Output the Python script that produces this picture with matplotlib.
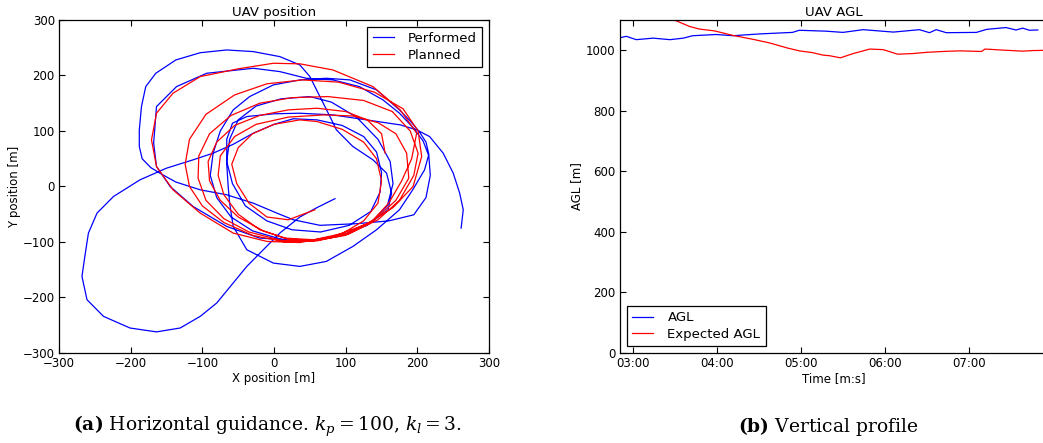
import numpy as np
import matplotlib
matplotlib.use("Agg")
import matplotlib.pyplot as plt
from matplotlib.ticker import FuncFormatter

# performed UAV track [m] (x, y)
performed = [
    (261, -75), (264, -42), (259, -12), (250, 24), (236, 60), (217, 90), (199, 102),
    (176, 111), (129, 120), (82, 129), (36, 132), (0, 131), (-38, 126), (-58, 114),
    (-66, 85), (-66, 40), (-64, 0), (-62, -30), (-57, -72), (-38, -114), (-1, -138),
    (36, -144), (73, -135), (110, -108), (143, -78), (175, -42), (194, -5), (210, 30),
    (216, 58), (212, 80), (203, 98), (190, 118), (175, 138), (143, 174), (106, 192),
    (73, 195), (36, 192), (-1, 183), (-34, 162), (-57, 138), (-75, 100), (-85, 60),
    (-89, 20), (-80, -20), (-60, -55), (-30, -80), (10, -95), (50, -98), (90, -90),
    (130, -70), (159, -42), (164, -12), (157, 24), (138, 48), (110, 72), (87, 102),
    (78, 126), (64, 162), (50, 198), (36, 219), (8, 234), (-29, 243), (-66, 246),
    (-103, 241), (-137, 228), (-165, 204), (-179, 180), (-185, 144), (-188, 102),
    (-188, 72), (-184, 50), (-172, 34), (-158, 23), (-137, 8), (-103, -6), (-66, -15),
    (-29, -30), (4, -48), (27, -60), (64, -70), (116, -67), (160, -62), (195, -51),
    (212, -20), (218, 20), (216, 55), (208, 82), (194, 106), (175, 132), (152, 156),
    (119, 180), (82, 192), (45, 195), (8, 207), (-29, 213), (-94, 204), (-136, 180),
    (-164, 144), (-168, 78), (-164, 36), (-145, 0), (-113, -36), (-66, -72), (-20, -93),
    (17, -96), (60, -96), (100, -86), (135, -65), (158, -35), (166, 5), (162, 45),
    (145, 85), (115, 125), (80, 152), (50, 162), (10, 158), (-25, 145), (-50, 120),
    (-62, 85), (-66, 45), (-58, 5), (-40, -35), (-10, -62), (25, -78), (65, -82),
    (105, -70), (135, -45), (148, -10), (150, 25), (143, 62), (125, 90), (95, 110),
    (60, 120), (27, 122), (0, 112), (-29, 96), (-57, 76), (-85, 60), (-113, 48),
    (-150, 33), (-187, 12), (-224, -18), (-247, -48), (-259, -84), (-264, -126),
    (-268, -162), (-261, -204), (-238, -234), (-201, -255), (-164, -262), (-131, -255),
    (-103, -234), (-80, -210), (-57, -174), (-38, -144), (-15, -114), (8, -84),
    (36, -55), (60, -38), (85, -22),
]

# planned track [m] (x, y)
planned = [
    (155, 60), (150, 95), (130, 120), (100, 135), (60, 141), (20, 138), (-20, 128),
    (-55, 110), (-80, 80), (-92, 45), (-90, 10), (-75, -25), (-50, -55), (-15, -80),
    (20, -95), (60, -97), (100, -88), (135, -65), (160, -30), (178, 10), (192, 50),
    (199, 96), (176, 138), (138, 180), (82, 210), (36, 221), (-1, 222), (-50, 212),
    (-103, 198), (-141, 168), (-164, 132), (-171, 84), (-164, 36), (-141, -6),
    (-103, -48), (-57, -84), (-10, -99), (36, -101), (82, -90), (129, -68), (166, -38),
    (194, 0), (206, 54), (201, 100), (180, 140), (140, 170), (90, 188), (40, 192),
    (-10, 185), (-55, 165), (-95, 130), (-118, 85), (-124, 40), (-118, 0), (-100, -35),
    (-70, -65), (-30, -88), (15, -100), (60, -98), (105, -85), (145, -60), (175, -25),
    (195, 20), (201, 60), (190, 100), (165, 135), (125, 155), (75, 162), (25, 160),
    (-20, 150), (-60, 128), (-90, 95), (-105, 55), (-106, 15), (-95, -25), (-70, -58),
    (-35, -82), (10, -97), (55, -98), (100, -85), (140, -60), (170, -25), (188, 15),
    (185, 60), (170, 95), (145, 115), (110, 127), (70, 129), (20, 125), (-25, 112),
    (-55, 90), (-75, 55), (-78, 20), (-70, -15), (-50, -50), (-20, -78), (15, -93),
    (55, -96), (95, -85), (125, -62), (145, -30), (150, 10), (143, 50), (125, 80),
    (95, 103), (60, 117), (36, 120), (0, 112), (-30, 95), (-50, 70), (-59, 40),
    (-52, 5), (-35, -30), (-10, -55), (20, -60), (57, -42),
]

# AGL vs time (minutes)
t_agl = [2.84, 2.92, 3.04, 3.24, 3.44, 3.60, 3.71, 3.99, 4.19, 4.51, 4.90, 4.98,
         5.30, 5.50, 5.74, 6.10, 6.41, 6.53, 6.61, 6.73, 7.09, 7.21, 7.44, 7.56,
         7.64, 7.72, 7.82]
agl = [1041, 1046, 1035, 1040, 1035, 1040, 1048, 1052, 1048, 1054, 1059, 1066,
       1063, 1059, 1068, 1060, 1068, 1058, 1068, 1058, 1059, 1069, 1075, 1067,
       1073, 1066, 1067]

t_exp = [3.45, 3.50, 3.67, 3.79, 3.97, 4.19, 4.43, 4.63, 4.83, 4.98, 5.14, 5.26,
         5.34, 5.47, 5.62, 5.82, 5.98, 6.15, 6.33, 6.49, 6.69, 6.89, 7.15, 7.19,
         7.37, 7.64, 7.76, 7.95]
exp_agl = [1110, 1099, 1079, 1070, 1064, 1049, 1036, 1024, 1008, 998, 992, 984,
           982, 975, 989, 1004, 1002, 987, 989, 993, 996, 998, 996, 1004,
           1001, 997, 999, 1000]

plt.rcParams['font.family'] = 'DejaVu Sans'
plt.rcParams['mathtext.fontset'] = 'dejavuserif'

fig = plt.figure(figsize=(10.43, 4.43), dpi=100)
fig.patch.set_facecolor('white')

def style_axes(ax, right=True):
    ax.tick_params(direction='in', top=True, right=right, length=4, width=0.8,
                   labelsize=8.5, pad=3)
    for s in ax.spines.values():
        s.set_linewidth(0.9)

# left: horizontal track
ax1 = fig.add_axes([0.0566, 0.2032, 0.4123, 0.7517])
px, py = zip(*performed)
qx, qy = zip(*planned)
ax1.plot(px, py, color='#0000ff', lw=0.9, label='Performed')
ax1.plot(qx, qy, color='#ff0000', lw=0.9, label='Planned')
ax1.set_xlim(-300, 300)
ax1.set_ylim(-300, 300)
ax1.set_xticks(np.arange(-300, 301, 100))
ax1.set_yticks(np.arange(-300, 301, 100))
ax1.set_title('UAV position', fontsize=9.5, pad=3)
ax1.set_xlabel('X position [m]', fontsize=8.5, labelpad=1)
ax1.set_ylabel('Y position [m]', fontsize=8.5, labelpad=1)
style_axes(ax1)
leg1 = ax1.legend(loc='upper right', fontsize=9.5, fancybox=False, framealpha=1,
                  edgecolor='black', handlelength=1.6, handletextpad=1.1,
                  borderaxespad=0.5, labelspacing=0.3)
leg1.get_frame().set_linewidth(0.9)

# right: AGL (axes runs past the right edge of the figure)
ax2 = fig.add_axes([0.5944, 0.2032, 0.4100, 0.7517])
ax2.plot(t_agl, agl, color='#0000ff', lw=0.9, label='AGL')
ax2.plot(t_exp, exp_agl, color='#ff0000', lw=0.9, label='Expected AGL')
ax2.set_xlim(2.845, 7.936)
ax2.set_ylim(0, 1100)
ax2.set_xticks([3, 4, 5, 6, 7])
ax2.set_yticks(np.arange(0, 1001, 200))
ax2.xaxis.set_major_formatter(FuncFormatter(lambda v, p: '%02d:%02d' % (int(v), int(round((v % 1) * 60)))))
ax2.set_title('UAV AGL', fontsize=9.5, pad=3)
ax2.set_xlabel('Time [m:s]', fontsize=8.5, labelpad=1)
ax2.set_ylabel('AGL [m]', fontsize=8.5, labelpad=2)
style_axes(ax2, right=False)
leg2 = ax2.legend(loc='lower left', fontsize=9.5, fancybox=False, framealpha=1,
                  edgecolor='black', handlelength=1.6, handletextpad=1.1,
                  borderaxespad=0.5, labelspacing=0.3)
leg2.get_frame().set_linewidth(0.9)

# captions
fig.text(0.256, 0.037, r'$\mathbf{(a)}$ Horizontal guidance. $k_p=100$, $k_l=3$.',
         family='DejaVu Serif', fontsize=13.5, ha='center', va='center')
fig.text(0.794, 0.037, r'$\mathbf{(b)}$ Vertical profile',
         family='DejaVu Serif', fontsize=13.5, ha='center', va='center')

fig.savefig('out.png', dpi=100, facecolor='white')
